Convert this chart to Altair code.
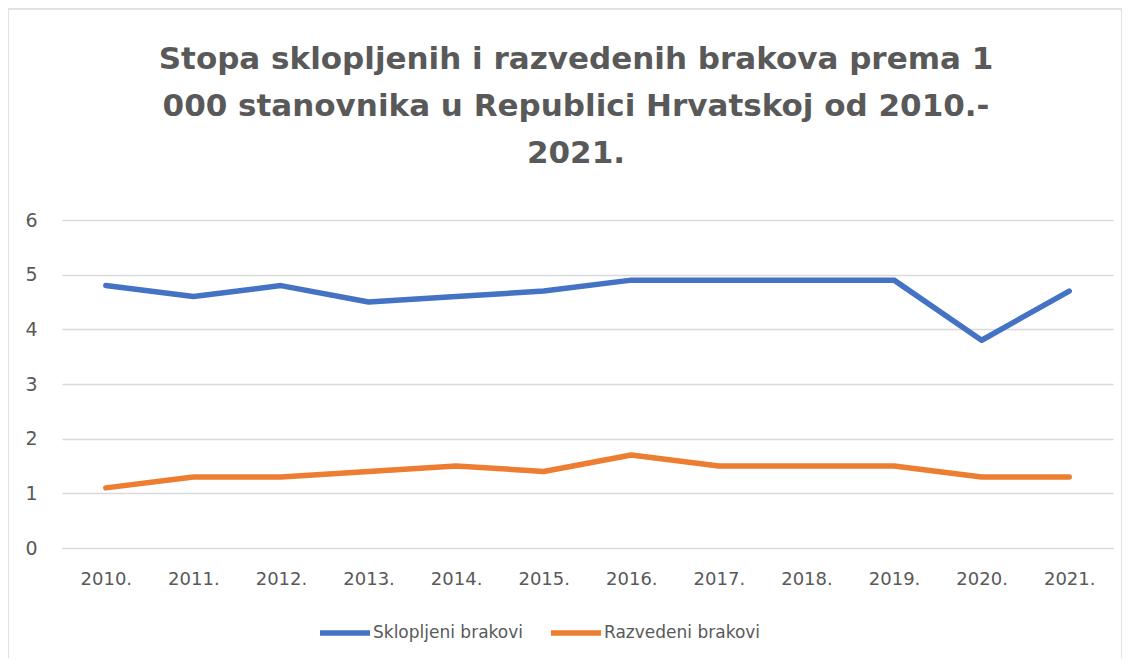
import altair as alt
import pandas as pd

years = ["2010.", "2011.", "2012.", "2013.", "2014.", "2015.", "2016.", "2017.", "2018.", "2019.", "2020.", "2021."]
sklopljeni = [4.8, 4.6, 4.8, 4.5, 4.6, 4.7, 4.9, 4.9, 4.9, 4.9, 3.8, 4.7]
razvedeni = [1.1, 1.3, 1.3, 1.4, 1.5, 1.4, 1.7, 1.5, 1.5, 1.5, 1.3, 1.3]
series_names = ["Sklopljeni brakovi", "Razvedeni brakovi"]
colors = ["#4472C4", "#ED7D31"]
title_lines = ["Stopa sklopljenih i razvedenih brakova prema 1",
               "000 stanovnika u Republici Hrvatskoj od 2010.-",
               "2021."]

rows = []
for i, y in enumerate(years):
    rows.append({"godina": y, "serija": series_names[0], "vrijednost": sklopljeni[i], "ord": i})
    rows.append({"godina": y, "serija": series_names[1], "vrijednost": razvedeni[i], "ord": i})
df = pd.DataFrame(rows)

FONT = "DejaVu Sans"
GRAY = "#595959"

lines = alt.Chart(df).mark_line(strokeWidth=5.5, strokeCap="round", strokeJoin="round").encode(
    x=alt.X("godina:N", sort=years, title=None,
            axis=alt.Axis(labelAngle=0, labelFontSize=18, labelColor=GRAY, labelFont=FONT,
                          labelPadding=22, ticks=False, domainColor="#d9d9d9", grid=False)),
    y=alt.Y("vrijednost:Q", title=None, scale=alt.Scale(domain=[0, 6]),
            axis=alt.Axis(values=[0, 1, 2, 3, 4, 5, 6], labelFontSize=19, labelColor=GRAY,
                          labelFont=FONT, labelPadding=25, ticks=False, domain=False,
                          gridColor="#d9d9d9", gridWidth=1.5)),
    color=alt.Color("serija:N", sort=series_names,
                    scale=alt.Scale(domain=series_names, range=colors),
                    legend=alt.Legend(title=None, orient="none", legendX=255, legendY=385,
                                      direction="horizontal", symbolType="stroke",
                                      symbolSize=2500, symbolStrokeWidth=5.5,
                                      labelFontSize=17, labelColor=GRAY, labelFont=FONT,
                                      labelOffset=0, columnPadding=17)),
    detail="serija:N",
    order="ord:Q",
)

border = alt.Chart(pd.DataFrame({"a": [0]})).mark_rect(
    fill=None, stroke="#d9d9d9", strokeWidth=1.5
).encode(x=alt.value(-54), x2=alt.value(1060), y=alt.value(-211), y2=alt.value(440))

title = alt.Chart(pd.DataFrame({"t": ["\n".join(title_lines)]})).mark_text(
    font=FONT, fontSize=31, fontWeight="bold", color=GRAY, lineBreak="\n",
    lineHeight=47, align="center", baseline="alphabetic"
).encode(text="t:N", x=alt.value(514), y=alt.value(-151))

chart = alt.layer(border, title, lines).properties(
    width=1051, height=328,
    autosize=alt.AutoSizeParams(type="none"),
    padding={"left": 54, "top": 212, "right": 9, "bottom": 110},
).configure_view(stroke=None)

chart.save("out.html", embed_options={"renderer": "svg", "actions": False})
